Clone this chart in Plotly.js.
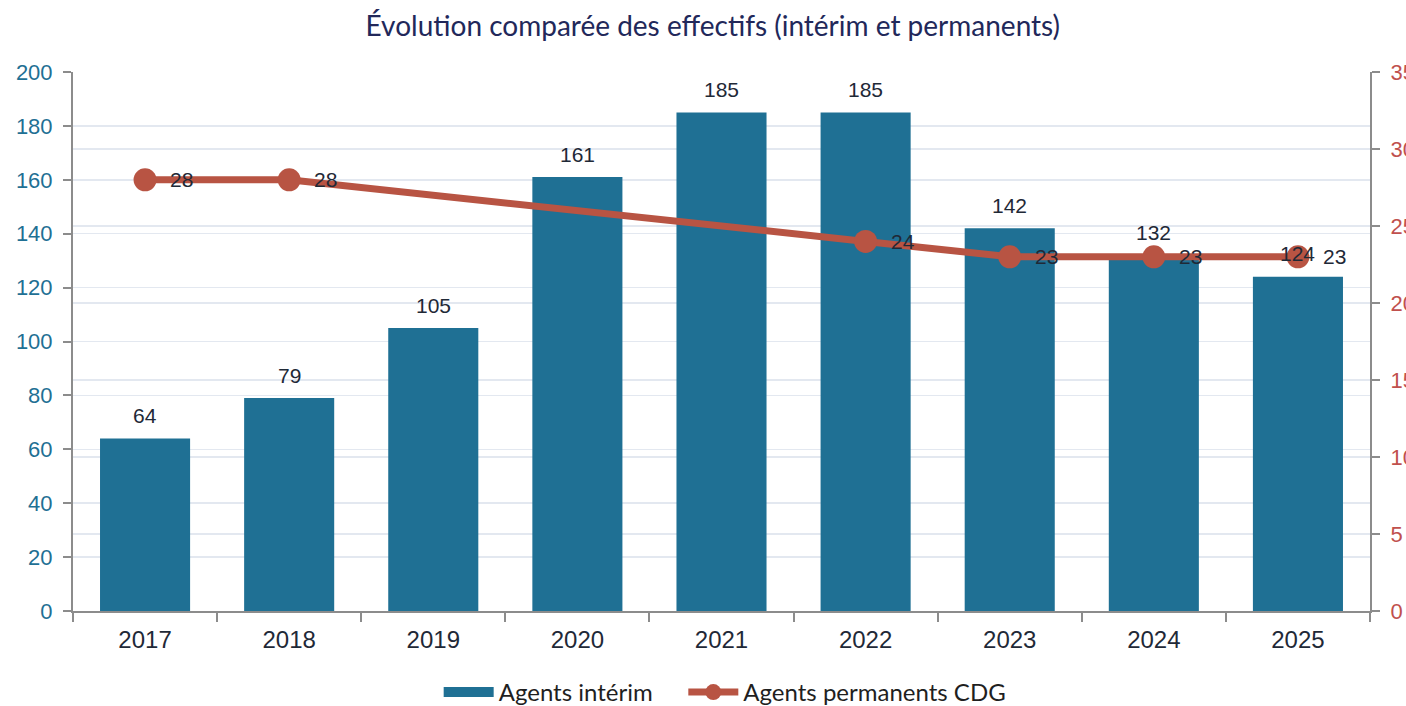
<!DOCTYPE html>
<html>
<head>
<meta charset="utf-8">
<script src="https://cdn.plot.ly/plotly-3.0.1.min.js"></script>
<style>html,body{margin:0;padding:0;background:#fff;}#chart{width:1406px;height:706px;}</style>
</head>
<body>
<div id="chart"></div>
<script>
const years = ["2017","2018","2019","2020","2021","2022","2023","2024","2025"];
const interim = [64, 79, 105, 161, 185, 185, 142, 132, 124];
const permanents = [28, 28, null, null, null, 24, 23, 23, 23];
const titleText = "Évolution comparée des effectifs (intérim et permanents)";
const nameInterim = "Agents intérim";
const namePerm = "Agents permanents CDG";

const teal = "#1F7094";
const red = "#B85443";
const labelFont = {family: "Liberation Sans, Arial", size: 21, color: "#1F2937"};
const legendFont = {family: "Lato, Open Sans, sans-serif", size: 24, color: "#1F1F1F"};

const traces = [
  {
    type: "bar", x: years, y: interim, name: nameInterim, showlegend: false,
    marker: {color: teal}
  },
  {
    type: "scatter", mode: "lines", x: [years[0], years[0]], y: [null, null], name: nameInterim,
    line: {color: teal, width: 15}, showlegend: true, hoverinfo: "skip", legend: "legend"
  },
  {
    type: "scatter", mode: "lines+markers", x: years, y: permanents, name: namePerm,
    yaxis: "y2", connectgaps: true,
    line: {color: red, width: 7},
    marker: {color: red, size: 23},
    cliponaxis: false, legend: "legend2"
  }
];

const annotations = [];
years.forEach((yr, i) => {
  annotations.push({x: i, y: interim[i], xref: "x", yref: "y", text: String(interim[i]),
    showarrow: false, xanchor: "center", yanchor: "middle", yshift: 23, font: labelFont});
  if (permanents[i] !== null) {
    annotations.push({x: i, y: permanents[i], xref: "x", yref: "y2", text: String(permanents[i]),
      showarrow: false, xanchor: "left", yanchor: "middle", xshift: 23, font: labelFont});
  }
});

const layout = {
  width: 1406, height: 706,
  margin: {l: 73, r: 36, t: 72, b: 95, autoexpand: false},
  paper_bgcolor: "#fff", plot_bgcolor: "#fff",
  bargap: 0.375,
  title: {text: titleText, x: 0.507, xanchor: "center", y: 0.963, yanchor: "middle",
          font: {family: "Lato, Open Sans, sans-serif", size: 28, color: "#22285A"}},
  font: {family: "Liberation Sans, Arial"},
  annotations: annotations,
  xaxis: {
    type: "category", categoryorder: "array", categoryarray: years, range: [-0.5, years.length - 0.5],
    tickson: "boundaries", ticks: "outside", ticklen: 9, tickcolor: "#8C8C8C", tickwidth: 2,
    showline: true, linecolor: "#8C8C8C", linewidth: 2, showgrid: false, automargin: false,
    tickfont: {size: 24, color: "#1F2937"}, ticklabelstandoff: 6, tickangle: 0
  },
  yaxis: {
    range: [0, 200], dtick: 20, ticks: "outside", ticklen: 8, tickcolor: "#8C8C8C", tickwidth: 2,
    showline: true, linecolor: "#8C8C8C", linewidth: 2, automargin: false,
    showgrid: true, gridcolor: "#E3E8F0", gridwidth: 1.5, zeroline: false,
    tickfont: {size: 22, color: teal}, ticklabelstandoff: 6
  },
  yaxis2: {
    overlaying: "y", side: "right", range: [0, 35], dtick: 5, ticks: "outside", ticklen: 8,
    tickcolor: "#8C8C8C", tickwidth: 2, showline: true, linecolor: "#8C8C8C", linewidth: 2,
    showgrid: true, gridcolor: "#E3E8F0", gridwidth: 1.5, zeroline: false, automargin: false,
    tickfont: {size: 22, color: "#C0504D"}, ticklabelstandoff: 6
  },
  legend: {orientation: "h", x: 0.312, xanchor: "left", xref: "container",
           y: 0.051, yanchor: "top", yref: "container",
           font: legendFont, itemwidth: 50, bgcolor: "rgba(0,0,0,0)"},
  legend2: {orientation: "h", x: 0.486, xanchor: "left", xref: "container",
           y: 0.051, yanchor: "top", yref: "container",
           font: legendFont, itemwidth: 50, bgcolor: "rgba(0,0,0,0)"},
  showlegend: true
};

Plotly.newPlot("chart", traces, layout, {displayModeBar: false, staticPlot: true});
</script>
</body>
</html>
